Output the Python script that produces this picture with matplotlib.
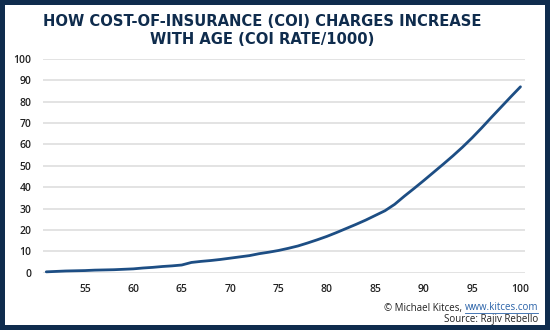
import matplotlib
matplotlib.use("Agg")
import matplotlib.pyplot as plt
from matplotlib.patches import Rectangle
from matplotlib.lines import Line2D

NAVY = "#0f2c4d"
LINE = "#1d4e84"
GRID = "#e3e3e3"
LINK = "#2a62a8"

ages = list(range(51, 101))
coi_rate = [0.4, 0.6, 0.8, 0.9, 1.0, 1.2, 1.3, 1.4, 1.6, 1.8,
            2.2, 2.5, 2.9, 3.2, 3.6, 4.8, 5.3, 5.7, 6.2, 6.8,
            7.4, 8.0, 8.9, 9.6, 10.4, 11.4, 12.5, 13.9, 15.4, 17.0,
            18.8, 20.7, 22.6, 24.6, 26.8, 29.0, 32.0, 35.8, 39.4, 43.1,
            46.9, 50.7, 54.6, 58.7, 63.1, 67.8, 72.7, 77.5, 82.3, 87.0]
xticks = [55, 60, 65, 70, 75, 80, 85, 90, 95, 100]
yticks = list(range(0, 101, 10))

W, H = 550, 330
fig = plt.figure(figsize=(W / 100, H / 100), dpi=100, facecolor=NAVY)
fig.add_artist(Rectangle((5 / W, 5 / H), 540 / W, 320 / H, transform=fig.transFigure,
                         facecolor="white", edgecolor="none", zorder=-5))

ax = fig.add_axes([42.7 / W, 1 - 272.7 / H, 482.6 / W, 213.7 / H])
ax.set_facecolor("none")
ax.plot(ages, coi_rate, color=LINE, lw=2.0, clip_on=False, solid_capstyle="round",
        solid_joinstyle="round", zorder=3)
ax.set_xlim(50.63, 100.5)
ax.set_ylim(0, 100)
ax.set_xticks(xticks)
ax.set_yticks(yticks)
ax.grid(axis="y", color=GRID, lw=1.4)
ax.set_axisbelow(True)
for s in ax.spines.values():
    s.set_visible(False)
ax.tick_params(length=0, labelsize=7.5, labelcolor="#222222")
ax.tick_params(axis="y", pad=8)
ax.tick_params(axis="x", pad=8)
for lab in ax.get_xticklabels() + ax.get_yticklabels():
    lab.set_fontfamily("Open Sans")
    lab.set_fontweight("semibold")

tkw = dict(ha="center", va="center", fontsize=10.6, fontweight="bold", color=NAVY, family="DejaVu Sans")
fig.text(262 / W, 1 - 21.5 / H, "HOW COST-OF-INSURANCE (COI) CHARGES INCREASE", **tkw)
fig.text(262 / W, 1 - 40 / H, "WITH AGE (COI RATE/1000)", **tkw)

# footer: credit line with underlined link, then source
fkw = dict(fontsize=7, family="Open Sans", va="center")
url = fig.text(538 / W, 1 - 308 / H, "www.kitces.com", ha="right", color=LINK, **fkw)
fig.canvas.draw()
r = fig.canvas.get_renderer()
bb = url.get_window_extent(r)
fig.text(bb.x0 / W, 1 - 308 / H, "\u00a9 Michael Kitces, ", ha="right", color="#222222", **fkw)
fig.add_artist(Line2D([bb.x0 / W, bb.x1 / W], [(bb.y0 + 1) / H] * 2, transform=fig.transFigure,
                      color=LINK, lw=0.6))
fig.text(538 / W, 1 - 319.5 / H, "Source: Rajiv Rebello", ha="right", color="#222222", **fkw)

fig.savefig("out.png", dpi=100, facecolor=NAVY)
